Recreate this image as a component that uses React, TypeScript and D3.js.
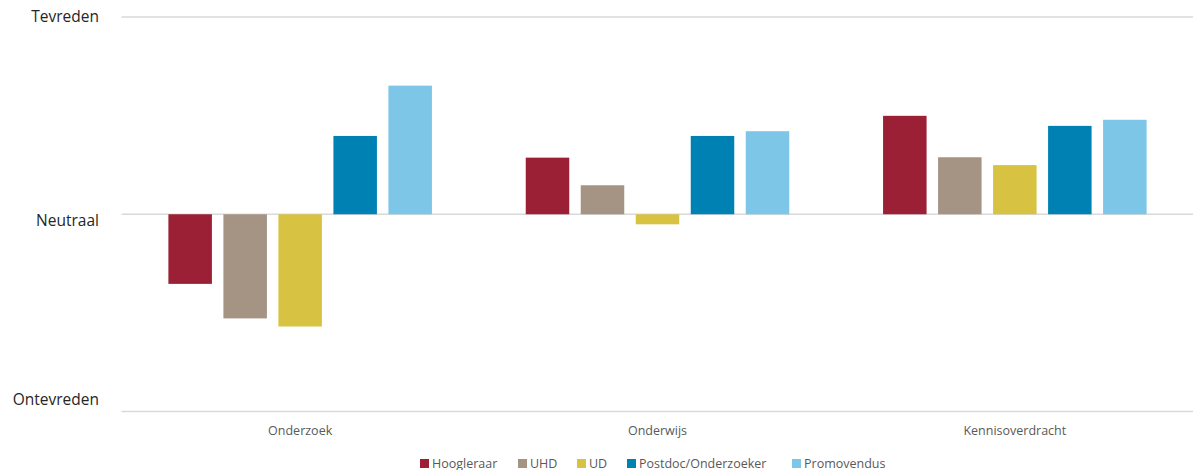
import React from "react";
import * as d3 from "d3";

const categories = ["Onderzoek", "Onderwijs", "Kennisoverdracht"];
const seriesNames = ["Hoogleraar", "UHD", "UD", "Postdoc/Onderzoeker", "Promovendus"];
const seriesColors = ["#9B1F35", "#A59484", "#D7C242", "#0081B3", "#7DC6E7"];
const hoogleraar = [-0.353, 0.287, 0.499];
const uhd = [-0.528, 0.147, 0.289];
const ud = [-0.569, -0.051, 0.249];
const postdoc = [0.397, 0.397, 0.448];
const promovendus = [0.652, 0.421, 0.479];
const seriesValues = [hoogleraar, uhd, ud, postdoc, promovendus];
const yTicks = [-1, 0, 1];
const yTickLabels = ["Ontevreden", "Neutraal", "Tevreden"];
const yLabelOffsets = [-12, 6.5, 0];

const W = 1193;
const H = 470;
const FONT = "'Open Sans', 'Noto Sans', sans-serif";

export default function App() {
  const y = d3.scaleLinear().domain([-1, 1]).range([411.5, 17]);
  const x0 = d3
    .scaleBand<string>()
    .domain(categories)
    .range([121.5, 1193.5])
    .paddingInner(0.2625)
    .paddingOuter(0.13125);
  const x1 = d3
    .scaleBand<string>()
    .domain(seriesNames)
    .range([0, x0.bandwidth()])
    .paddingInner(0.209)
    .paddingOuter(0);

  const legendX = [420, 518, 577, 627, 792];

  return (
    <svg
      width={W}
      height={H}
      style={{ position: "absolute", left: 0, top: 0, display: "block", background: "#fff" }}
    >
      {yTicks.map((t, i) => (
        <g key={t}>
          <line x1={121.5} x2={1193} y1={y(t)} y2={y(t)} stroke="#D9D9D9" strokeWidth={1.3} />
          <text
            x={99}
            y={y(t) + yLabelOffsets[i]}
            dy="0.35em"
            textAnchor="end"
            fontFamily={FONT}
            fontSize={15.5}
            fill="#262626"
          >
            {yTickLabels[i]}
          </text>
        </g>
      ))}
      {categories.map((c, ci) => (
        <g key={c} transform={`translate(${x0(c)},0)`}>
          {seriesNames.map((s, si) => {
            const v = seriesValues[si][ci];
            const y0 = y(0);
            const yv = y(v);
            return (
              <rect
                key={s}
                x={x1(s)}
                y={Math.min(y0, yv)}
                width={x1.bandwidth()}
                height={Math.abs(yv - y0)}
                fill={seriesColors[si]}
              />
            );
          })}
          <text
            x={x0.bandwidth() / 2}
            y={431}
            dy="0.35em"
            textAnchor="middle"
            fontFamily={FONT}
            fontSize={12.5}
            fill="#595959"
          >
            {c}
          </text>
        </g>
      ))}
      {seriesNames.map((s, si) => (
        <g key={s} transform={`translate(${legendX[si]},0)`}>
          <rect x={0} y={459} width={9} height={9} fill={seriesColors[si]} />
          <text x={12} y={463.5} dy="0.35em" fontFamily={FONT} fontSize={12.5} fill="#595959">
            {s}
          </text>
        </g>
      ))}
    </svg>
  );
}
